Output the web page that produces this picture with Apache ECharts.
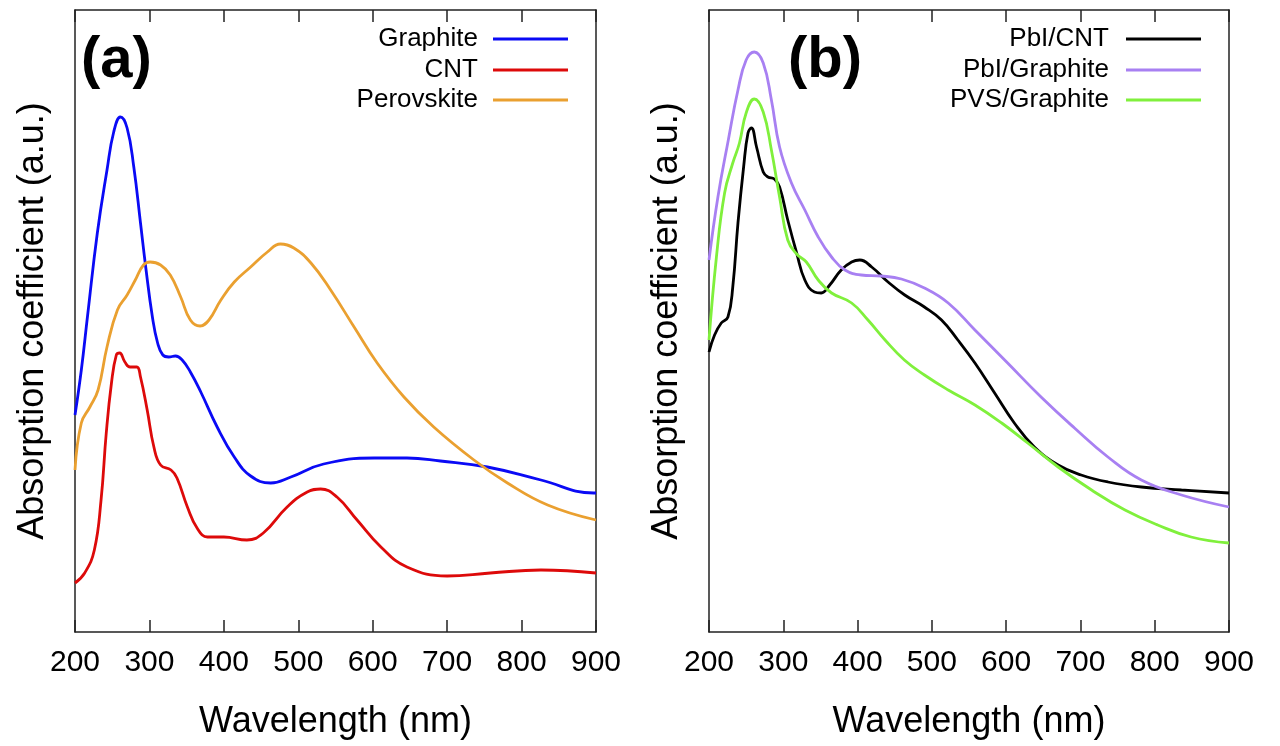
<!DOCTYPE html>
<html>
<head>
<meta charset="utf-8">
<script src="https://cdn.jsdelivr.net/npm/echarts@6/dist/echarts.min.js"></script>
<style>
html,body{margin:0;padding:0;background:#fff;}
#chart{width:1280px;height:746px;}
</style>
</head>
<body>
<div id="chart"></div>
<script>
// x ticks
const xTicks = [200, 300, 400, 500, 600, 700, 800, 900];
// Panel (a) series: [wavelength nm, absorption a.u.]
const graphite = [[200,217],[208.5,262],[217,317],[230,399],[243,462],[252,500],[261,515],[270,504],[279,465],[288,409],[295,365],[304,315],[311,289],[318,277],[326,275],[335,276],[344,272],[355,260],[369,240],[391,205],[414,175],[436,156],[463,149],[490,155],[534,168],[602,174],[646,174],[691,171],[754,165],[826,152],[897,139],[900,139]];
const cnt = [[200,49],[213,59],[226,82],[235,132],[242,199],[249,249],[255.5,277],[260,279],[267,270],[274,265],[283,265],[288,255],[297,222],[306,185],[315,167],[329,162],[337,154],[351,125],[364,104],[378,95],[400,95],[431,92],[453,99],[485,125],[512,140],[530,143],[552,135],[579,112],[611,85],[646,65],[700,56],[758,59],[826,62],[900,59]];
const perovskite = [[200,162],[208.5,209],[220,225],[231,242],[243,285],[257,322],[270,337],[281,352],[292,367],[301,370],[315,367],[328,357],[342,335],[355,312],[368,306],[380,312],[396,332],[414,350],[436,365],[458.5,380],[476,388],[494,384],[517,369],[543.5,342],[575,305],[606,269],[642,235],[682,205],[736,172],[781,149],[835,127],[900,112]];
// Panel (b) series
const pbiCnt = [[200,280],[207.5,297],[216.5,309],[225.5,315],[232,345],[239,409],[246.6,465],[252.5,499],[257,504],[264,485],[273,460],[279.4,455],[288,453],[295,445],[306,412],[318,379],[329,352],[342,340],[351,339],[362.5,347],[378,362],[392,370],[403,372],[419,365],[441,350],[463.5,337],[490,325],[513,312],[535,292],[558,269],[584.5,239],[611,209],[638,185],[670,167],[701,157],[737,150],[782,145],[836,142],[900,139]];
const pbiGraphite = [[200,372],[212,435],[226,492],[239,542],[250,572],[261,580],[273,569],[284,532],[295,485],[311,449],[329,422],[347,395],[365,375],[383,362],[405,357],[432,356],[459,353],[490,344],[522,329],[558,302],[602,269],[647,235],[692,204],[737,175],[782,152],[836,137],[900,125]];
const pvsGraphite = [[200,292],[210,375],[221,439],[232,469],[241,489],[250,519],[261,533],[273,520],[284,482],[295,435],[306,392],[318,378],[331,370],[347,352],[365,339],[392,329],[414,312],[437,292],[463,272],[490,257],[522,242],[558,227],[594,209],[629,189],[670,165],[715,142],[760,122],[804,107],[849,95],[900,89]];

const seriesNamesA = ['Graphite', 'CNT', 'Perovskite'];
const seriesNamesB = ['PbI/CNT', 'PbI/Graphite', 'PVS/Graphite'];
const colors = {
  'Graphite': '#0a0af5', 'CNT': '#dd0a0a', 'Perovskite': '#eaa030',
  'PbI/CNT': '#000000', 'PbI/Graphite': '#a880f2', 'PVS/Graphite': '#80f03c'
};

const FONT = 'Liberation Sans, Arial, sans-serif';
const chart = echarts.init(document.getElementById('chart'), null, {renderer: 'canvas'});

function xAxesFor(grid) {
  return [
    {
      type: 'value', gridIndex: grid, position: 'bottom', min: 200, max: 900, interval: 100,
      axisLine: {show: true, onZero: false, lineStyle: {color: '#222', width: 1.5}},
      axisTick: {show: true, inside: true, length: 12, lineStyle: {color: '#222', width: 1.5}},
      axisLabel: {show: true, margin: 16, color: '#000', fontSize: 30, fontFamily: FONT},
      splitLine: {show: false},
      name: 'Wavelength (nm)', nameLocation: 'middle', nameGap: 72,
      nameTextStyle: {color: '#000', fontSize: 36, fontFamily: FONT}
    },
    {
      type: 'value', gridIndex: grid, position: 'top', min: 200, max: 900, interval: 100,
      axisLine: {show: true, onZero: false, lineStyle: {color: '#222', width: 1.5}},
      axisTick: {show: true, inside: true, length: 12, lineStyle: {color: '#222', width: 1.5}},
      axisLabel: {show: false}, splitLine: {show: false}
    }
  ];
}
function yAxesFor(grid) {
  return [
    {
      type: 'value', gridIndex: grid, position: 'left', min: 0, max: 622,
      axisLine: {show: true, onZero: false, lineStyle: {color: '#222', width: 1.5}},
      axisTick: {show: false}, axisLabel: {show: false}, splitLine: {show: false},
      name: 'Absorption coefficient (a.u.)', nameLocation: 'middle', nameGap: 24, nameRotate: 90,
      nameTextStyle: {color: '#000', fontSize: 36, fontFamily: FONT}
    },
    {
      type: 'value', gridIndex: grid, position: 'right', min: 0, max: 622,
      axisLine: {show: true, onZero: false, lineStyle: {color: '#222', width: 1.5}},
      axisTick: {show: false}, axisLabel: {show: false}, splitLine: {show: false}
    }
  ];
}

function lineSeries(name, data, xi, yi) {
  return {
    name: name, type: 'line', data: data, xAxisIndex: xi, yAxisIndex: yi,
    smooth: 0.45, symbol: 'none', showSymbol: false,
    lineStyle: {color: colors[name], width: 2.8},
    itemStyle: {color: colors[name]},
    emphasis: {disabled: true}, animation: false
  };
}

function legendItem(name, top, right, gap) {
  return {
    data: [name], orient: 'horizontal', align: 'right', right: right, top: top,
    icon: 'rect', itemWidth: 75, itemHeight: 3, selectedMode: false,
    textStyle: {color: '#000', fontSize: 26, fontFamily: FONT, padding: [0, gap, 0, 0]}
  };
}

const legendTops = [21, 52, 82];

chart.setOption({
  backgroundColor: '#fff',
  animation: false,
  grid: [
    {left: 75, right: 684, top: 10, height: 622, containLabel: false},
    {left: 709, right: 51, top: 10, height: 622, containLabel: false}
  ],
  xAxis: [...xAxesFor(0), ...xAxesFor(1)],
  yAxis: [...yAxesFor(0), ...yAxesFor(1)],
  legend: [
    legendItem('Graphite', legendTops[0], 707, 10),
    legendItem('CNT', legendTops[1], 707, 10),
    legendItem('Perovskite', legendTops[2], 707, 10),
    legendItem('PbI/CNT', legendTops[0], 74, 12),
    legendItem('PbI/Graphite', legendTops[1], 74, 12),
    legendItem('PVS/Graphite', legendTops[2], 74, 12)
  ],
  graphic: [
    {type: 'text', left: 81, top: 32, style: {text: '(a)', font: 'bold 58px ' + FONT, fill: '#000'}},
    {type: 'text', left: 788, top: 32, style: {text: '(b)', font: 'bold 58px ' + FONT, fill: '#000'}}
  ],
  series: [
    lineSeries('Graphite', graphite, 0, 0),
    lineSeries('CNT', cnt, 0, 0),
    lineSeries('Perovskite', perovskite, 0, 0),
    lineSeries('PbI/CNT', pbiCnt, 2, 2),
    lineSeries('PbI/Graphite', pbiGraphite, 2, 2),
    lineSeries('PVS/Graphite', pvsGraphite, 2, 2)
  ]
});
</script>
</body>
</html>
